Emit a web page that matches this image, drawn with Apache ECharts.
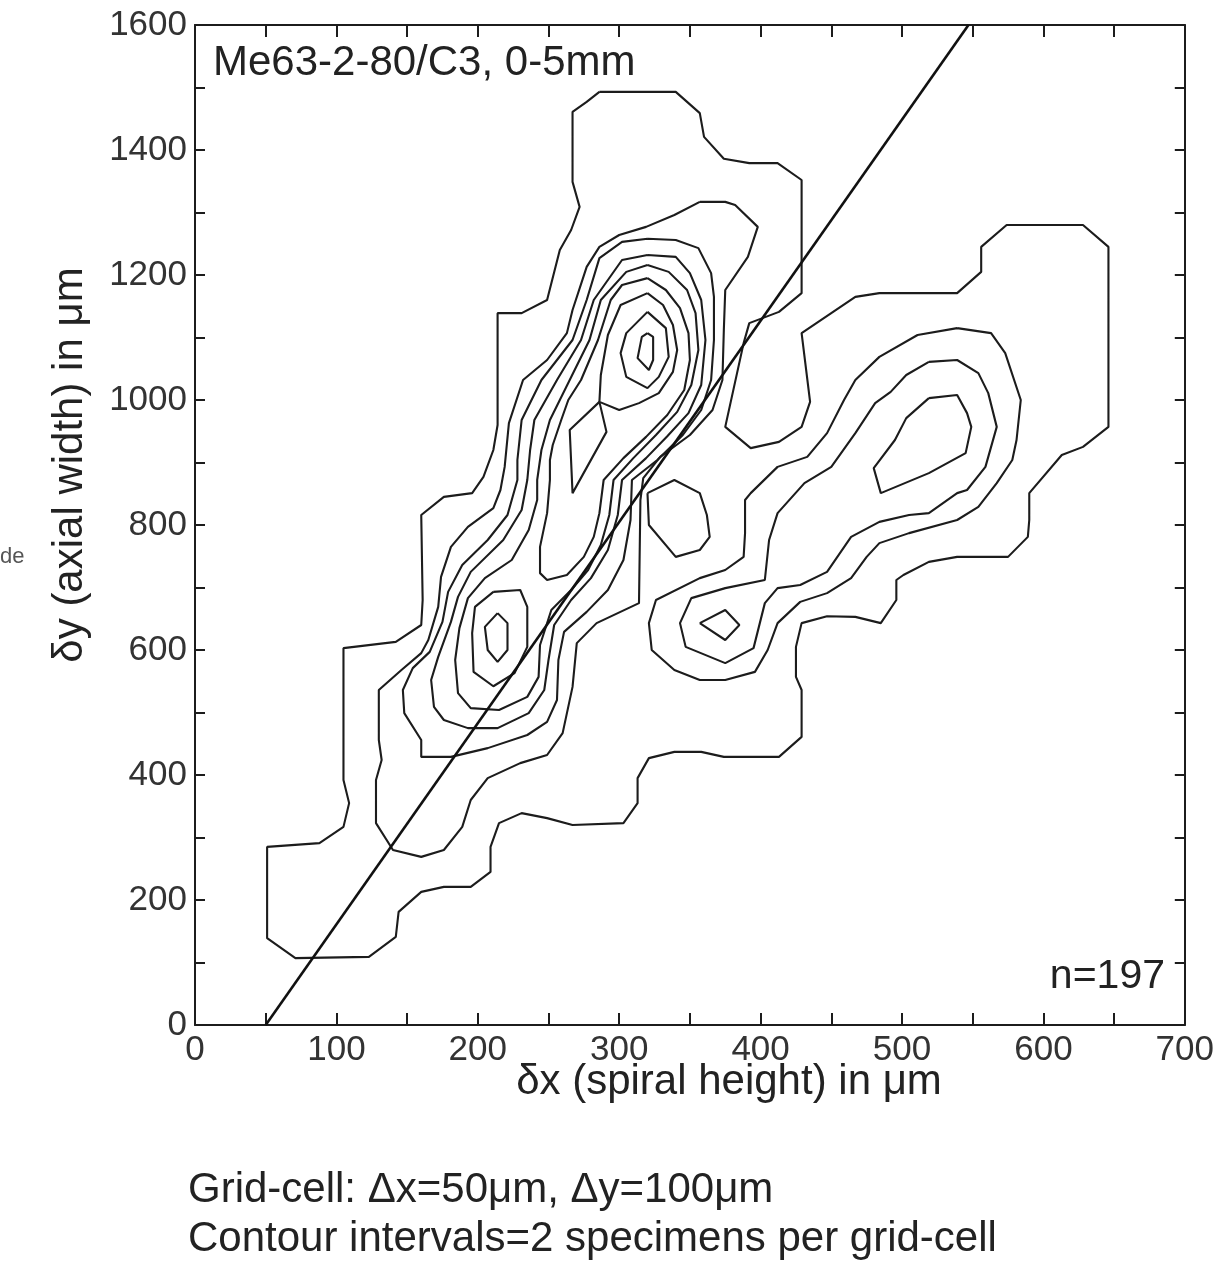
<!DOCTYPE html>
<html><head><meta charset="utf-8">
<script src="https://cdn.jsdelivr.net/npm/echarts@6/dist/echarts.min.js"></script>
<style>html,body{margin:0;padding:0;background:#fff}#chart{width:1217px;height:1270px}</style>
</head><body><div id="chart"></div>
<script>
// Axis ticks
const xTickValues = [0,100,200,300,400,500,600,700];
const yTickValues = [0,200,400,600,800,1000,1200,1400,1600];

// Contour lines (x = spiral height um, y = axial width um)
const contourOuter = [[286,1493],[340,1493],[357,1459],[360,1421],[374,1386],[392,1379],[412,1379],[429,1352],[429,1171],[413,1141],[392,1123],[388,1091],[375,957],[393,923],[413,933],[429,957],[435,997],[429,1107],[467,1165],[484,1171],[539,1171],[556,1205],[556,1245],[574,1280],[628,1280],[646,1245],[646,957],[628,925],[613,912],[590,851],[590,808],[589,781],[575,749],[539,749],[519,741],[501,720],[496,712],[496,680],[485,643],[467,653],[447,654],[429,643],[425,605],[425,557],[429,536],[429,461],[413,429],[374,429],[358,437],[339,437],[321,427],[313,395],[313,355],[303,323],[267,320],[249,331],[231,339],[215,323],[209,285],[209,245],[195,221],[176,221],[160,213],[144,181],[142,141],[123,109],[71,107],[51,139],[51,285],[88,291],[105,317],[109,355],[105,392],[105,603],[142,613],[160,640],[161,680],[160,816],[176,845],[196,851],[204,877],[211,920],[214,960],[214,1139],[231,1139],[249,1160],[258,1240],[266,1272],[272,1309],[267,1349],[267,1461],[277,1477],[286,1493]];
const leftL2 = [[357,1317],[375,1317],[382,1312],[398,1277],[391,1229],[375,1176],[374,1112],[373,1032],[366,984],[350,944],[329,909],[317,875],[315,840],[314,675],[284,643],[270,611],[267,541],[260,467],[249,432],[230,419],[207,395],[195,360],[189,317],[176,280],[160,269],[140,280],[128,323],[128,392],[132,424],[130,456],[130,536],[146,568],[160,595],[165,616],[172,669],[174,717],[181,765],[193,797],[211,827],[216,856],[219,893],[222,963],[232,1032],[249,1064],[263,1107],[267,1144],[277,1213],[286,1245],[300,1264],[319,1277],[339,1296],[357,1317]];
const leftL3 = [[320,1258],[340,1256],[356,1243],[365,1203],[367,1165],[367,1096],[365,1032],[358,984],[345,944],[327,904],[309,872],[308,808],[303,744],[292,696],[277,661],[261,629],[257,584],[256,520],[249,485],[235,464],[207,443],[181,429],[160,429],[160,456],[148,499],[147,536],[154,571],[166,597],[175,645],[179,693],[189,736],[207,776],[221,816],[228,872],[228,904],[231,968],[245,1032],[267,1096],[277,1160],[286,1227],[302,1253],[320,1258]];
const leftL4 = [[320,1232],[340,1229],[350,1203],[358,1160],[361,1096],[358,1024],[349,979],[334,942],[319,907],[302,872],[299,816],[292,760],[280,715],[266,680],[254,640],[250,584],[247,536],[236,499],[214,475],[193,475],[176,488],[169,509],[167,552],[172,589],[181,645],[186,685],[195,725],[218,776],[231,824],[235,872],[237,920],[240,968],[256,1032],[273,1096],[282,1160],[302,1224],[320,1232]];
const leftL5 = [[320,1216],[335,1205],[348,1176],[354,1139],[356,1080],[351,1024],[341,981],[326,944],[310,907],[296,872],[293,816],[287,768],[278,728],[266,696],[252,664],[244,608],[243,557],[235,525],[215,504],[195,507],[186,531],[184,584],[187,635],[193,683],[205,715],[224,744],[236,792],[242,840],[242,872],[245,920],[251,968],[265,1032],[279,1096],[287,1160],[305,1205],[320,1216]];
const upperL6 = [[320,1195],[333,1176],[343,1147],[349,1107],[350,1064],[346,1016],[334,976],[319,941],[303,907],[289,872],[286,819],[282,781],[275,749],[263,720],[249,712],[244,723],[244,765],[249,819],[251,872],[251,904],[253,928],[259,968],[264,1000],[273,1032],[285,1096],[294,1160],[302,1184],[320,1195]];
const upperL7 = [[320,1171],[331,1152],[338,1120],[341,1080],[338,1045],[328,1011],[314,995],[300,984],[286,997],[287,1040],[292,1104],[301,1152],[320,1171]];
const upperL8 = [[320,1141],[333,1115],[335,1069],[328,1037],[320,1019],[305,1037],[301,1075],[305,1107],[320,1141]];
const upperL9 = [[320,1107],[324,1101],[324,1064],[321,1048],[313,1067],[316,1101],[320,1107]];
const saddleV = [[286,997],[291,949],[267,851],[265,952],[286,997]];
const lowerL6 = [[211,693],[230,696],[235,669],[235,605],[226,563],[211,542],[197,565],[196,627],[198,669],[211,693]];
const lowerL7 = [[214,659],[221,643],[221,600],[214,581],[207,600],[205,637],[214,659]];
const smallLoop = [[320,851],[339,872],[357,851],[362,816],[364,781],[357,760],[340,749],[321,800],[320,851]];
const rightL2 = [[539,1115],[563,1107],[573,1075],[584,1000],[581,936],[578,904],[567,867],[554,829],[539,808],[505,787],[484,771],[475,749],[464,715],[447,691],[428,677],[412,643],[405,600],[396,565],[375,552],[357,552],[339,568],[323,600],[321,643],[326,680],[357,715],[375,728],[388,749],[389,787],[389,840],[393,851],[412,893],[433,909],[447,947],[459,1000],[467,1032],[484,1069],[511,1104],[539,1115]];
const rightL3 = [[519,1061],[539,1064],[554,1043],[561,1011],[567,957],[559,893],[546,856],[539,851],[519,819],[505,816],[484,805],[464,781],[447,725],[428,704],[412,699],[403,675],[395,603],[375,579],[347,605],[343,643],[351,683],[375,699],[403,712],[406,776],[412,819],[431,867],[450,893],[467,947],[481,995],[492,1013],[503,1040],[519,1061]];
const rightL4 = [[519,1003],[539,1008],[546,979],[549,957],[545,915],[519,883],[485,851],[480,891],[495,936],[503,971],[519,1003]];
const diamond = [[357,643],[375,664],[385,640],[375,616],[357,643]];
const regressionLine = [[50,0],[547,1600]];

const contours = [contourOuter,leftL2,leftL3,leftL4,leftL5,upperL6,upperL7,upperL8,upperL9,saddleV,lowerL6,lowerL7,smallLoop,rightL2,rightL3,rightL4,diamond];

const FONT = '"Liberation Sans", Arial, Helvetica, sans-serif';
const INK = '#1c1c1c';

const chart = echarts.init(document.getElementById('chart'), null, {renderer:'canvas'});

function axisCommon(showLabel, tickLen){
  return {
    axisLine:{show:true,onZero:false,lineStyle:{color:INK,width:2}},
    axisTick:{show:true,inside:true,length:tickLen,lineStyle:{color:INK,width:2}},
    minorTick:{show:true,splitNumber:2,length:tickLen,lineStyle:{color:INK,width:2}},
    splitLine:{show:false},
    minorSplitLine:{show:false},
    axisLabel:{show:showLabel,fontSize:35,fontFamily:FONT,color:'#333',margin:8,formatter:function(v){return String(v);}}
  };
}
const xMin = xTickValues[0], xMax = xTickValues[xTickValues.length-1];
const yMin = yTickValues[0], yMax = yTickValues[yTickValues.length-1];
const xInt = xTickValues[1]-xTickValues[0], yInt = yTickValues[1]-yTickValues[0];

const series = contours.map(c => ({
  type:'line', data:c, showSymbol:false, symbol:'none', silent:true, animation:false,
  lineStyle:{color:INK,width:2.1}, xAxisIndex:0, yAxisIndex:0
}));
series.push({type:'line', data:regressionLine, showSymbol:false, symbol:'none', silent:true, animation:false,
  lineStyle:{color:'#111',width:2.6}, xAxisIndex:0, yAxisIndex:0});

chart.setOption({
  backgroundColor:'#fff',
  animation:false,
  grid:{left:195, right:22, top:25, bottom:245, containLabel:false},
  xAxis:[
    Object.assign({type:'value',min:xMin,max:xMax,interval:xInt,position:'bottom'}, axisCommon(true,12)),
    Object.assign({type:'value',min:xMin,max:xMax,interval:xInt,position:'top'}, axisCommon(false,12))
  ],
  yAxis:[
    Object.assign({type:'value',min:yMin,max:yMax,interval:yInt,position:'left'}, axisCommon(true,10)),
    Object.assign({type:'value',min:yMin,max:yMax,interval:yInt,position:'right'}, axisCommon(false,10))
  ],
  series: series,
  graphic:[
    {type:'text', x:213, y:63, style:{text:'Me63-2-80/C3, 0-5mm', fontSize:42, fontFamily:FONT, fill:'#222', align:'left', verticalAlign:'middle'}},
    {type:'text', x:1165, y:977, style:{text:'n=197', fontSize:41, fontFamily:FONT, fill:'#222', align:'right', verticalAlign:'middle'}},
    {type:'text', x:729, y:1082, style:{text:'\u03b4x (spiral height) in \u03bcm', fontSize:42, fontFamily:FONT, fill:'#222', align:'center', verticalAlign:'middle'}},
    {type:'text', x:70, y:465, rotation:Math.PI/2, style:{text:'\u03b4y (axial width) in \u03bcm', fontSize:42, fontFamily:FONT, fill:'#222', align:'center', verticalAlign:'middle'}},
    {type:'text', x:188, y:1190, style:{text:'Grid-cell: \u0394x=50\u03bcm, \u0394y=100\u03bcm', fontSize:42, fontFamily:FONT, fill:'#222', align:'left', verticalAlign:'middle'}},
    {type:'text', x:188, y:1239, style:{text:'Contour intervals=2 specimens per grid-cell', fontSize:42, fontFamily:FONT, fill:'#222', align:'left', verticalAlign:'middle'}},
    {type:'text', x:0, y:557, style:{text:'de', fontSize:22, fontFamily:FONT, fill:'#555', align:'left', verticalAlign:'middle'}}
  ]
});
</script>
</body></html>
